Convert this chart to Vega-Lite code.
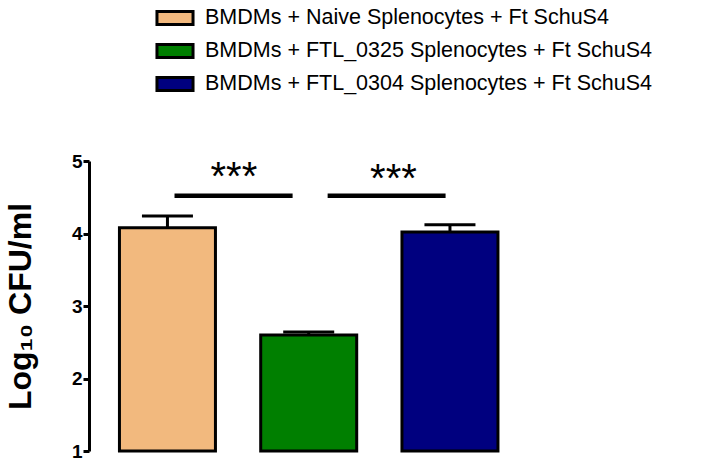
{
  "$schema": "https://vega.github.io/schema/vega-lite/v6.json",
  "width": 438,
  "height": 290,
  "autosize": {"type": "none"},
  "padding": {"left": 89, "top": 161, "right": 179, "bottom": 14},
  "background": "white",
  "config": {
    "view": {"stroke": null},
    "font": "Liberation Sans"
  },
  "datasets": {
    "bars": [
      {"group": "BMDMs + Naive Splenocytes + Ft SchuS4", "idx": 1, "value": 4.08, "err": 4.24},
      {"group": "BMDMs + FTL_0325 Splenocytes + Ft SchuS4", "idx": 2, "value": 2.6, "err": 2.64},
      {"group": "BMDMs + FTL_0304 Splenocytes + Ft SchuS4", "idx": 3, "value": 4.02, "err": 4.12}
    ],
    "sig": [
      {"from": 1.05, "to": 1.886, "y": 4.52, "mid": 1.47, "ystar": 4.76, "label": "***"},
      {"from": 2.134, "to": 2.969, "y": 4.52, "mid": 2.60, "ystar": 4.74, "label": "***"}
    ]
  },
  "layer": [
    {
      "data": {"name": "bars"},
      "mark": {"type": "rule", "strokeWidth": 3, "color": "black"},
      "encoding": {
        "x": {"field": "idx", "type": "quantitative", "scale": {"domain": [0.48, 3.51]}, "axis": null},
        "y": {"field": "value", "type": "quantitative"},
        "y2": {"field": "err"}
      }
    },
    {
      "data": {"name": "bars"},
      "mark": {"type": "tick", "orient": "horizontal", "size": 51, "thickness": 3, "color": "black", "opacity": 1},
      "encoding": {
        "x": {"field": "idx", "type": "quantitative"},
        "y": {"field": "err", "type": "quantitative"}
      }
    },
    {
      "data": {"name": "bars"},
      "mark": {"type": "bar", "width": 96, "stroke": "black", "strokeWidth": 3},
      "encoding": {
        "x": {
          "field": "idx",
          "type": "quantitative",
          "scale": {"domain": [0.48, 3.51], "nice": false, "zero": false},
          "axis": {
            "title": null,
            "labels": false,
            "ticks": false,
            "grid": false,
            "domainColor": "black",
            "domainWidth": 3
          }
        },
        "y": {
          "field": "value",
          "type": "quantitative",
          "scale": {"domain": [1, 5], "nice": false, "zero": false},
          "axis": {
            "title": "Log₁₀ CFU/ml",
            "titleFontSize": 32,
            "titleFontWeight": "bold",
            "titleColor": "black",
            "titlePadding": 34,
            "values": [1, 2, 3, 4, 5],
            "format": "d",
            "grid": false,
            "domainColor": "black",
            "domainWidth": 3,
            "tickColor": "black",
            "tickWidth": 3,
            "tickSize": 6,
            "labelFontSize": 19,
            "labelFontWeight": "bold",
            "labelColor": "black",
            "labelPadding": 1
          }
        },
        "y2": {"datum": 1},
        "fill": {
          "field": "group",
          "type": "nominal",
          "scale": {
            "domain": [
              "BMDMs + Naive Splenocytes + Ft SchuS4",
              "BMDMs + FTL_0325 Splenocytes + Ft SchuS4",
              "BMDMs + FTL_0304 Splenocytes + Ft SchuS4"
            ],
            "range": ["#F2B97E", "#007F00", "#00007F"]
          },
          "legend": {
            "title": null,
            "orient": "none",
            "legendX": 66,
            "legendY": -163,
            "symbolType": "M-1,-0.36L1,-0.36L1,0.36L-1,0.36Z",
            "symbolSize": 1300,
            "symbolStrokeColor": "black",
            "symbolStrokeWidth": 3,
            "symbolOpacity": 1,
            "labelFontSize": 21.5,
            "labelColor": "black",
            "labelOffset": 10,
            "labelLimit": 600,
            "rowPadding": 0
          }
        }
      }
    },
    {
      "data": {"name": "sig"},
      "mark": {"type": "rule", "strokeWidth": 4.5, "color": "black"},
      "encoding": {
        "x": {"field": "from", "type": "quantitative"},
        "x2": {"field": "to"},
        "y": {"field": "y", "type": "quantitative"}
      }
    },
    {
      "data": {"name": "sig"},
      "mark": {"type": "text", "fontSize": 40, "color": "black", "baseline": "middle"},
      "encoding": {
        "x": {"field": "mid", "type": "quantitative"},
        "y": {"field": "ystar", "type": "quantitative"},
        "text": {"field": "label"}
      }
    }
  ]
}
